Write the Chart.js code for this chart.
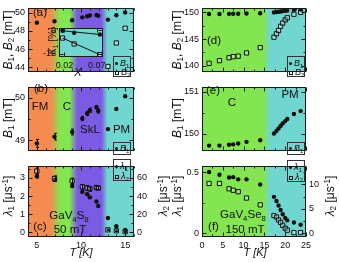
<!DOCTYPE html>
<html>
<head>
<meta charset="utf-8">
<script src="https://cdn.jsdelivr.net/npm/chart.js@4.4.1/dist/chart.umd.min.js"></script>
<style>
body { margin: 0; background: #fff; }
#wrap { position: relative; width: 339px; height: 262px; overflow: hidden; font-family: 'Liberation Sans', Arial, sans-serif; color: #111; }
canvas { position: absolute; }
.t { position: absolute; white-space: nowrap; line-height: 1; transform: translate(-50%, -50%); font-size: 11.5px; }
.r { transform: translate(-50%, -50%) rotate(-90deg); font-size: 12px; }
sub, sup { font-size: 68%; line-height: 0; }
sub { vertical-align: -0.3em; }
sup { vertical-align: 0.5em; }
.lg { position: absolute; border: 1px solid #333; box-sizing: border-box; font-size: 9px; }
.row { position: absolute; left: 1px; white-space: nowrap; line-height: 1; }
.dot { display: inline-block; width: 3px; height: 3px; border-radius: 50%; background: #111; margin-right: 2px; vertical-align: middle; }
.sq { display: inline-block; width: 2px; height: 2px; border: 1px solid #111; margin-right: 2px; vertical-align: middle; }
</style>
</head>
<body>
<div id="wrap">
  <canvas id="ca" width="170" height="80" style="left:0;top:0"></canvas>
  <canvas id="cb" width="170" height="80" style="left:0;top:79px"></canvas>
  <canvas id="cc" width="170" height="104" style="left:0;top:158px"></canvas>
  <canvas id="cd" width="169" height="80" style="left:170px;top:0"></canvas>
  <canvas id="ce" width="169" height="80" style="left:170px;top:79px"></canvas>
  <canvas id="cf" width="169" height="104" style="left:170px;top:158px"></canvas>
  <canvas id="ci" width="70" height="58" style="left:40px;top:20px"></canvas>

  <div class="t" style="left:40px;top:12.5px">(a)</div>
  <div class="t" style="left:41px;top:89px">(b)</div>
  <div class="t" style="left:40px;top:107px">FM</div>
  <div class="t" style="left:67px;top:107px">C</div>
  <div class="t" style="left:90px;top:130px">SkL</div>
  <div class="t" style="left:121.5px;top:130px">PM</div>
  <div class="t" style="left:40px;top:227px">(c)</div>
  <div class="t" style="left:69px;top:216px">GaV<sub>4</sub>S<sub>8</sub></div>
  <div class="t" style="left:70px;top:229.5px">50 mT</div>
  <div class="t" style="left:214px;top:41px">(d)</div>
  <div class="t" style="left:213px;top:91px">(e)</div>
  <div class="t" style="left:232px;top:103px">C</div>
  <div class="t" style="left:290px;top:95px">PM</div>
  <div class="t" style="left:213.5px;top:227px">(f)</div>
  <div class="t" style="left:243px;top:215px">GaV<sub>4</sub>Se<sub>8</sub></div>
  <div class="t" style="left:245px;top:229.5px">150 mT</div>

  <div class="t r" style="left:8px;top:40px"><i>B</i><sub>1</sub>, <i>B</i><sub>2</sub> [mT]</div>
  <div class="t r" style="left:8px;top:118px"><i>B</i><sub>1</sub> [mT]</div>
  <div class="t r" style="left:8px;top:196px"><i>λ</i><sub>1</sub> [μs<sup>-1</sup>]</div>
  <div class="t r" style="left:163px;top:196px"><i>λ</i><sub>2</sub> [μs<sup>-1</sup>]</div>
  <div class="t" style="left:81px;top:252px;font-size:11px"><i>T [K]</i></div>
  <div class="t r" style="left:177px;top:40px"><i>B</i><sub>1</sub>, <i>B</i><sub>2</sub> [mT]</div>
  <div class="t r" style="left:177px;top:118px"><i>B</i><sub>1</sub> [mT]</div>
  <div class="t r" style="left:177px;top:196px"><i>λ</i><sub>1</sub> [μs<sup>-1</sup>]</div>
  <div class="t r" style="left:330px;top:196px"><i>λ</i><sub>2</sub> [μs<sup>-1</sup>]</div>
  <div class="t" style="left:255px;top:252px;font-size:11px"><i>T [K]</i></div>
  <div class="t r" style="left:52.5px;top:41px;font-size:10px"><i>K</i><sub>1</sub> [%]</div>
  <div class="t" style="left:78px;top:72px;font-size:11px"><i>X</i></div>

  <div class="lg" style="left:113px;top:56px;width:18px;height:21px">
    <div class="row" style="top:2px"><span class="dot"></span><i>B</i><sub>1</sub></div>
    <div class="row" style="top:11px"><span class="sq"></span><i>B</i><sub>2</sub></div>
  </div>
  <div class="lg" style="left:113px;top:142px;width:18px;height:13px">
    <div class="row" style="top:1px"><span class="dot"></span><i>B</i><sub>1</sub></div>
  </div>
  <div class="lg" style="left:113px;top:159px;width:18px;height:22px">
    <div class="row" style="top:2px"><span class="dot"></span><i>λ</i><sub>1</sub></div>
    <div class="row" style="top:12px"><span class="sq"></span><i>λ</i><sub>2</sub></div>
  </div>
  <div class="lg" style="left:287px;top:56px;width:18px;height:21px">
    <div class="row" style="top:2px"><span class="dot"></span><i>B</i><sub>1</sub></div>
    <div class="row" style="top:11px"><span class="sq"></span><i>B</i><sub>2</sub></div>
  </div>
  <div class="lg" style="left:287px;top:142px;width:18px;height:13px">
    <div class="row" style="top:1px"><span class="dot"></span><i>B</i><sub>1</sub></div>
  </div>
  <div class="lg" style="left:287px;top:160px;width:18px;height:22px">
    <div class="row" style="top:2px"><span class="dot"></span><i>λ</i><sub>1</sub></div>
    <div class="row" style="top:12px"><span class="sq"></span><i>λ</i><sub>2</sub></div>
  </div>
</div>

<script>
// GaV4S8, 50 mT
const tempS = [5, 7, 9, 10.15, 10.7, 11.0, 11.75, 11.95, 13.05, 14, 15];
const b1S = [48.92, 49.08, 49.19, 49.51, 49.63, 49.71, 49.78, 49.69, 49.26, 49.74, 50.04];
const b1ErrS = [0.095, 0.08, 0.07, 0.05, 0.05, 0.05, 0.04, 0.05, 0.015, 0.015, 0.015];
const tempB2S = [13.05, 14, 15];
const b2S = [44.07, 46.67, 48.3];
const lam1S = [3.1, 2.89, 2.56, 2.23, 2.1, 1.93, 1.7, 1.45, 0.79, 0.33, 0.13];
const lam1ErrS = [0.1, 0.08, 0.07, 0.05, 0.05, 0.05, 0.05, 0.05, 0.03, 0.03, 0.03];
const lam2S = [67.7, 59.4, 56.8, 50.2, 48.9, 47.9, 49.5, 48.9, 2.7, 1.7, 0.7];
const lam2ErrS = [3.5, 3, 3, 2.5, 2.5, 2.5, 2, 2, 0.8, 0.8, 0.8];

// GaV4Se8, 150 mT
const tempSe = [1.7, 4.2, 6.5, 7.5, 8.7, 10.7, 14.0, 17.3, 17.9, 18.4, 18.9, 19.4, 20.0, 20.5, 22.1, 23.7];
const b1Se = [149.71, 149.71, 149.73, 149.74, 149.76, 149.80, 149.84, 150.0, 150.06, 150.12, 150.18, 150.24, 150.30, 150.35, 150.47, 150.54];
const b2Se = [140.45, 140.95, 141.5, 141.7, 141.8, 142.4, 143.4, 145.35, 146.0, 146.6, 147.4, 148.0, 148.6, 149.0, 149.65, 150.0];
const lam1Se = [0.50, 0.478, 0.455, 0.458, 0.44, 0.44, 0.398, 0.297, 0.263, 0.227, 0.19, 0.155, 0.125, 0.105, 0.088, 0.069];
const lam2Se = [10.2, 10.2, 9.1, 8.8, 8.5, 7.2, 5.8, 3.6, 3.3, 2.7, 2.2, 1.6, 1.0, 0.6, 0.1, 0.1];

// inset: K1 vs Se content X
const insetX = [0.017, 0.035, 0.075];
const k1Filled = [-0.3, -1.3, -2.2];
const k1Open = [-4.0, -7.0, -12.4];
const fitX = [0.017, 0.075];
const fitFilled = [-0.3, -2.2];
const fitOpen = [-4.0, -12.4];

// phase boundaries (start/end of each colour transition)
const phaseEdgesS = [6.6, 7.6, 8.7, 9.6, 12.3, 13.0];
const phaseEdgesSe = [14.8, 16.3];

// tick labels
const xTicksS = [5, 10, 15];
const xTicksSe = [0, 5, 10, 15, 20, 25];
const yTicksA = [44, 46, 48, 50];
const yTicksB = [49, 50];
const yTicksC = [0, 1, 2, 3];
const y2TicksC = [0, 20, 40, 60];
const yTicksD = [140, 145, 150];
const yTicksE = [150, 151];
const yTicksF = [0, 0.5];
const y2TicksF = [0, 5, 10];
const insetXTicks = [0.02, 0.07];
const insetYTicks = [0, -12];

const FONT = "'Liberation Sans', Arial, sans-serif";
const ORANGE = '#f58b50', GREEN = '#83e650', PURPLE = '#7b5ae4', CYAN = '#71d6d0';

function bandStops(edges, colors) {
    const stops = [];
    colors.forEach((c, i) => {
        if (i > 0) stops.push([edges[2 * i - 1], c]);
        if (i < colors.length - 1) stops.push([edges[2 * i], c]);
    });
    return stops;
}

const bandsPlugin = {
    id: 'bands',
    beforeDraw(chart, args, o) {
        const {ctx, chartArea: a, scales: {x}} = chart;
        const w = a.right - a.left;
        let fill = o.color;
        if (o.stops) {
            fill = ctx.createLinearGradient(a.left, 0, a.right, 0);
            o.stops.forEach(([v, c]) => {
                const p = (x.getPixelForValue(v) - a.left) / w;
                fill.addColorStop(Math.min(1, Math.max(0, p)), c);
            });
        }
        if (!fill) return;
        ctx.save();
        ctx.fillStyle = fill;
        ctx.fillRect(a.left, a.top, w, a.bottom - a.top);
        ctx.restore();
    }
};

const framePlugin = {
    id: 'frame',
    afterDraw(chart, args, o) {
        const {ctx, chartArea: a, scales} = chart;
        const L = Math.round(a.left) + 0.5, R = Math.round(a.right) - 0.5;
        const T = Math.round(a.top) + 0.5, B = Math.round(a.bottom) - 0.5;
        ctx.save();
        ctx.strokeStyle = '#1a1a1a';
        ctx.lineWidth = 1;
        ctx.strokeRect(L, T, R - L, B - T);
        ctx.beginPath();
        const marks = (scale, majors, step, fn) => {
            majors.forEach(v => fn(Math.round(scale.getPixelForValue(v)) + 0.5, 4));
            if (!step) return;
            for (let k = Math.ceil(scale.min / step); k * step <= scale.max; k++) {
                const v = k * step;
                if (!majors.some(m => Math.abs(m - v) < step / 10)) fn(Math.round(scale.getPixelForValue(v)) + 0.5, 2);
            }
        };
        marks(scales.x, o.xTicks, o.xStep, (p, l) => {
            ctx.moveTo(p, B); ctx.lineTo(p, B - l);
            ctx.moveTo(p, T); ctx.lineTo(p, T + l);
        });
        marks(scales.y, o.yTicks, o.yStep, (p, l) => {
            ctx.moveTo(L, p); ctx.lineTo(L + l, p);
            if (!scales.y2) { ctx.moveTo(R, p); ctx.lineTo(R - l, p); }
        });
        if (scales.y2) {
            marks(scales.y2, o.y2Ticks, o.y2Step, (p, l) => { ctx.moveTo(R, p); ctx.lineTo(R - l, p); });
        }
        ctx.stroke();
        ctx.restore();
    }
};

const errPlugin = {
    id: 'errs',
    afterDatasetsDraw(chart) {
        const ctx = chart.ctx;
        ctx.save();
        ctx.strokeStyle = '#111';
        ctx.lineWidth = 1;
        chart.data.datasets.forEach((ds, i) => {
            if (!ds.err) return;
            const meta = chart.getDatasetMeta(i);
            const ys = chart.scales[meta.yAxisID];
            meta.data.forEach((pt, j) => {
                const v = ds.data[j].y, e = ds.err[j];
                const y1 = ys.getPixelForValue(v - e), y2 = ys.getPixelForValue(v + e);
                const x = Math.round(pt.x) + 0.5;
                ctx.beginPath();
                ctx.moveTo(x, y1); ctx.lineTo(x, y2);
                ctx.moveTo(x - 1.5, y1); ctx.lineTo(x + 1.5, y1);
                ctx.moveTo(x - 1.5, y2); ctx.lineTo(x + 1.5, y2);
                ctx.stroke();
            });
        });
        ctx.restore();
    }
};

const pts = (xs, ys) => xs.map((x, i) => ({x, y: ys[i]}));

function filled(xs, ys, extra) {
    return Object.assign({
        data: pts(xs, ys), pointStyle: 'circle', pointRadius: 2.2,
        backgroundColor: '#111', borderColor: '#111', borderWidth: 0
    }, extra);
}

function open(xs, ys, extra) {
    return Object.assign({
        data: pts(xs, ys), pointStyle: 'rect', pointRadius: 3,
        backgroundColor: 'rgba(255,255,255,0.3)', borderColor: '#111', borderWidth: 1
    }, extra);
}

function axis(pos, min, max, ticks, size, show) {
    return {
        type: 'linear', position: pos, min, max, display: show,
        afterBuildTicks: s => { s.ticks = ticks.map(v => ({value: v})); },
        afterFit: s => { if (pos === 'bottom') s.height = size; else s.width = size; },
        grid: {display: false, drawTicks: false},
        border: {display: false},
        ticks: {font: {family: FONT, size: 9}, color: '#111', padding: 3}
    };
}

function panel(id, c) {
    const scales = {
        x: axis('bottom', c.x[0], c.x[1], c.xTicks, c.xH || 0, !!c.xH),
        y: axis('left', c.y[0], c.y[1], c.yTicks, c.yW, true)
    };
    if (c.y2) scales.y2 = axis('right', c.y2[0], c.y2[1], c.y2Ticks, c.y2W, true);
    return new Chart(document.getElementById(id), {
        type: 'scatter',
        data: {datasets: c.datasets},
        options: {
            responsive: false,
            animation: false,
            events: [],
            layout: {padding: c.pad},
            plugins: {
                legend: {display: false},
                tooltip: {enabled: false},
                bands: {stops: c.stops, color: c.fill},
                frame: {xTicks: c.xTicks, yTicks: c.yTicks, y2Ticks: c.y2Ticks, xStep: c.xStep, yStep: c.yStep, y2Step: c.y2Step}
            },
            scales
        },
        plugins: [bandsPlugin, framePlugin, errPlugin]
    });
}

const stopsS = bandStops(phaseEdgesS, [ORANGE, GREEN, PURPLE, CYAN]);
const stopsSe = bandStops(phaseEdgesSe, [GREEN, CYAN]);

// left column: GaV4S8
panel('ca', {
    pad: {top: 1, bottom: 1, left: 0, right: 36},
    x: [4, 16], xTicks: xTicksS, xStep: 1,
    y: [43.5, 50.5], yTicks: yTicksA, yStep: 1, yW: 28,
    stops: stopsS,
    datasets: [filled(tempS, b1S), open(tempB2S, b2S)]
});
panel('cb', {
    pad: {top: 0, bottom: 1, left: 0, right: 36},
    x: [4, 16], xTicks: xTicksS, xStep: 1,
    y: [48.75, 50.25], yTicks: yTicksB, yStep: 0.5, yW: 28,
    stops: stopsS,
    datasets: [filled(tempS, b1S, {err: b1ErrS})]
});
panel('cc', {
    pad: {top: 0, bottom: 0, left: 0, right: 0},
    x: [4, 16], xTicks: xTicksS, xStep: 1, xH: 25,
    y: [-0.26, 3.64], yTicks: yTicksC, yStep: 0.5, yW: 28,
    y2: [-5.2, 72.8], y2Ticks: y2TicksC, y2Step: 10, y2W: 36,
    stops: stopsS,
    datasets: [
        open(tempS, lam2S, {yAxisID: 'y2', err: lam2ErrS}),
        filled(tempS, lam1S, {err: lam1ErrS})
    ]
});

// right column: GaV4Se8
panel('cd', {
    pad: {top: 1, bottom: 1, left: 0, right: 33},
    x: [0, 25], xTicks: xTicksSe, xStep: 2.5,
    y: [138.9, 150.75], yTicks: yTicksD, yStep: 2.5, yW: 32,
    stops: stopsSe,
    datasets: [filled(tempSe, b1Se), open(tempSe, b2Se)]
});
panel('ce', {
    pad: {top: 0, bottom: 1, left: 0, right: 33},
    x: [0, 25], xTicks: xTicksSe, xStep: 2.5,
    y: [149.59, 151.11], yTicks: yTicksE, yStep: 0.5, yW: 32,
    stops: stopsSe,
    datasets: [filled(tempSe, b1Se)]
});
panel('cf', {
    pad: {top: 0, bottom: 0, left: 0, right: 0},
    x: [0, 25], xTicks: xTicksSe, xStep: 2.5, xH: 25,
    y: [-0.031, 0.546], yTicks: yTicksF, yStep: 0.25, yW: 32,
    y2: [-0.8, 13.7], y2Ticks: y2TicksF, y2Step: 2.5, y2W: 33,
    stops: stopsSe,
    datasets: [open(tempSe, lam2Se, {yAxisID: 'y2'}), filled(tempSe, lam1Se)]
});

// inset
panel('ci', {
    pad: {top: 5, bottom: 0, left: 0, right: 7},
    x: [0.0115, 0.0798], xTicks: insetXTicks, xH: 21,
    y: [-13.6, 0.9], yTicks: insetYTicks, yW: 19,
    fill: CYAN,
    datasets: [
        {data: pts(fitX, fitFilled), showLine: true, pointRadius: 0, borderColor: '#111', borderWidth: 1},
        {data: pts(fitX, fitOpen), showLine: true, pointRadius: 0, borderColor: '#111', borderWidth: 1},
        filled(insetX, k1Filled),
        open(insetX, k1Open)
    ]
});
</script>
</body>
</html>
